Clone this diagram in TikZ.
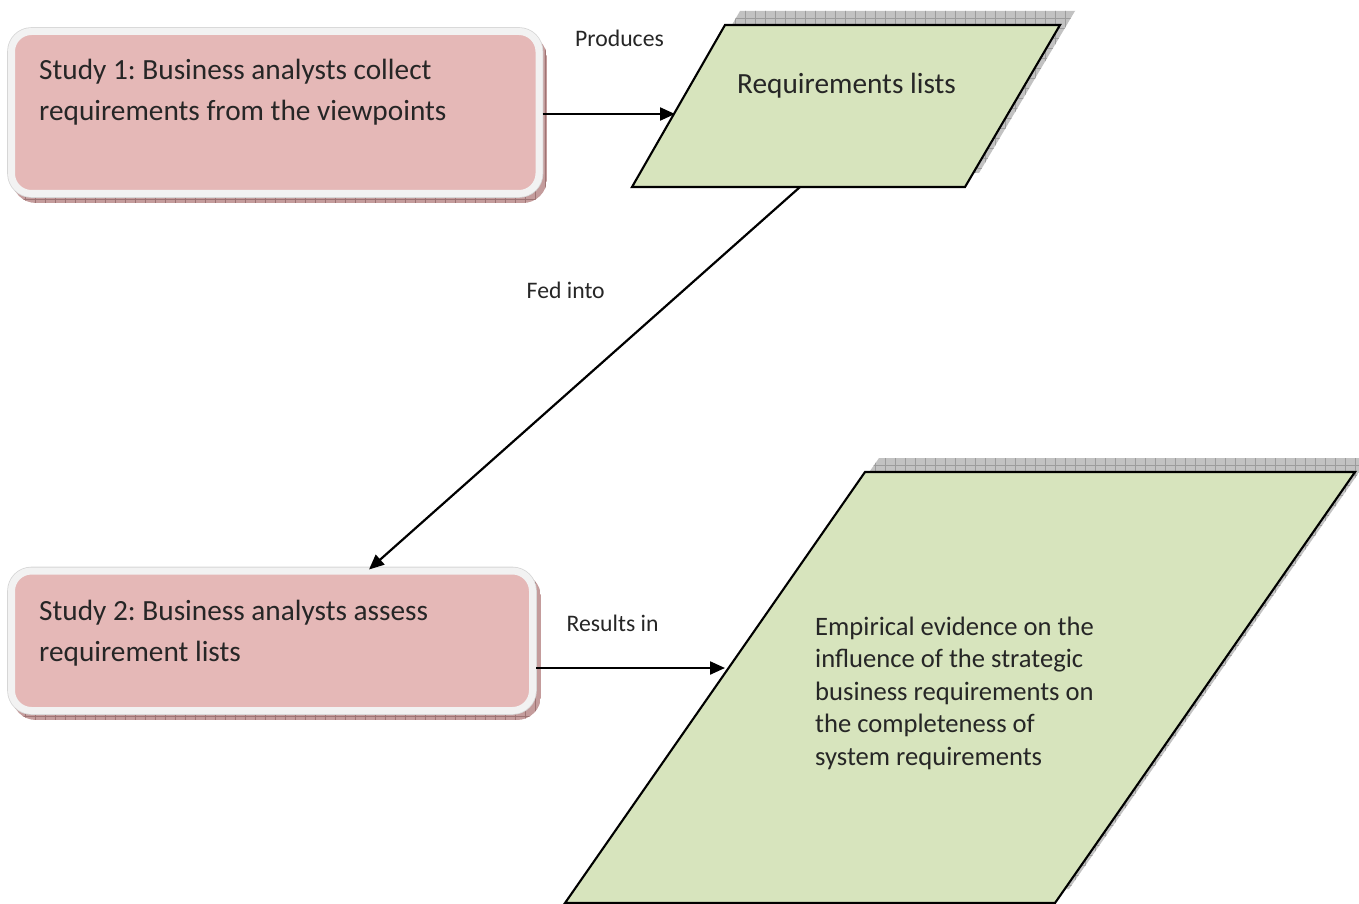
\documentclass[tikz,border=0pt]{standalone}
\usepackage{fontspec}
\setmainfont{Carlito}
\usetikzlibrary{arrows.meta,calc}

\definecolor{boxpink}{HTML}{E5B8B7}
\definecolor{rimgray}{HTML}{F2F2F2}
\definecolor{rimedge}{HTML}{D6D6D6}
\definecolor{pinkshadow}{HTML}{C49C9C}
\definecolor{pinkgrid}{HTML}{9E7474}
\definecolor{datagreen}{HTML}{D7E4BD}
\definecolor{grayshadow}{HTML}{C2C2C2}
\definecolor{graygrid}{HTML}{9C9C9C}
\definecolor{inktext}{HTML}{262626}

\tikzset{
  studybox/.style={rectangle, rounded corners=20pt, fill=boxpink,
    draw=rimgray, line width=7pt, inner sep=0pt,
    preaction={draw=rimedge, line width=8.6pt}},
  boxtext/.style={anchor=base west, inner sep=0pt, text=inktext,
    font=\fontsize{29.3}{41}\selectfont},
  datatext/.style={anchor=base west, inner sep=0pt, text=inktext,
    font=\fontsize{26.6}{32.5}\selectfont},
  edgelabel/.style={anchor=base west, inner sep=0pt, text=inktext,
    font=\fontsize{23.7}{28}\selectfont},
  flow/.style={line width=2.2pt, draw=black,
    -{Triangle[length=15pt,width=13pt]}},
  dataedge/.style={draw=black, line width=2.1pt, fill=datagreen, line join=miter},
}

\begin{document}
\frenchspacing
\begin{tikzpicture}[x=1pt,y=-1pt]
\useasboundingbox (0,0) rectangle (1359,904);

% ---- hatched shadows behind the two study boxes
\begin{scope}
  \clip[rounded corners=24pt] (12,34) rectangle (547,203);
  \fill[pinkshadow] (12,34) rectangle (547,203);
  \foreach \gx in {15,25,...,545} \draw[pinkgrid,line width=0.5pt] (\gx,34) -- (\gx,203);
  \draw[pinkgrid,line width=0.5pt] (12,199) -- (547,199);
\end{scope}
\begin{scope}
  \clip[rounded corners=24pt] (12,573) rectangle (541,720);
  \fill[pinkshadow] (12,573) rectangle (541,720);
  \foreach \gx in {15,25,...,540} \draw[pinkgrid,line width=0.5pt] (\gx,573) -- (\gx,720);
  \draw[pinkgrid,line width=0.5pt] (12,716) -- (541,716);
\end{scope}

% ---- hatched shadows behind the two data shapes
\begin{scope}
  \clip (646,173) -- (979,173) -- (1075,11) -- (740,11) -- cycle;
  \fill[grayshadow] (640,0) rectangle (1080,190);
  \foreach \gx in {645,655,...,1080} \draw[graygrid,line width=0.5pt] (\gx,0) -- (\gx,190);
  \foreach \gy in {18,28,...,180} \draw[graygrid,line width=0.5pt] (640,\gy) -- (1080,\gy);
\end{scope}
\begin{scope}
  \clip (579,889) -- (1069,889) -- (1369,458) -- (879,458) -- cycle;
  \fill[grayshadow] (570,450) rectangle (1370,900);
  \foreach \gx in {575,585,...,1370} \draw[graygrid,line width=0.5pt] (\gx,450) -- (\gx,900);
  \foreach \gy in {465,475,...,900} \draw[graygrid,line width=0.5pt] (570,\gy) -- (1370,\gy);
\end{scope}

% ---- study boxes
\node[studybox, minimum width=527.5pt, minimum height=162pt] (s1) at (275.25,112.5) {};
\node[studybox, minimum width=521pt, minimum height=139.5pt] (s2) at (272,640.75) {};

\node[boxtext] (s1text) at (39,79.5)
  {\parbox[t]{480pt}{Study 1: Business analysts collect\\requirements from the viewpoints}};
\node[boxtext] (s2text) at (39,620)
  {\parbox[t]{480pt}{Study 2: Business analysts assess\\requirement lists}};

% ---- data shapes (parallelograms)
\coordinate (rlBL) at (632,187);
\coordinate (rlBR) at (965,187);
\coordinate (rlTR) at (1060,25);
\coordinate (rlTL) at (725,25);
\path[dataedge] (rlBL) -- (rlBR) -- (rlTR) -- (rlTL) -- cycle;
\node[datatext, font=\fontsize{29.3}{36}\selectfont] (rltext) at (737,94) {Requirements lists};

\coordinate (evBL) at (565,903);
\coordinate (evBR) at (1055,903);
\coordinate (evTR) at (1355,472);
\coordinate (evTL) at (865,472);
\path[dataedge] (evBL) -- (evBR) -- (evTR) -- (evTL) -- cycle;
\node[datatext] (evtext) at (815,635)
  {\parbox[t]{300pt}{Empirical evidence on the\\influence of the strategic\\business requirements on\\the completeness of\\system requirements}};

% ---- connection points on the data shapes
\coordinate (rlIn)  at (675,114);
\coordinate (rlOut) at (800,187);
\coordinate (evIn)  at (725,668);
\coordinate (s2In)  at ($(s2.north west)+(361,2)$);

% ---- connectors
\draw[flow] (s1.east |- rlIn) -- (rlIn);
\draw[flow] (rlOut) -- (s2In);
\draw[flow] (s2.east |- evIn) -- (evIn);

% ---- connector labels
\node[edgelabel] (lblProduces) at (575,46.5) {Produces};
\node[edgelabel] (lblFed) at (526.5,298) {Fed into};
\node[edgelabel] (lblResults) at (566.5,631) {Results in};
\end{tikzpicture}
\end{document}
